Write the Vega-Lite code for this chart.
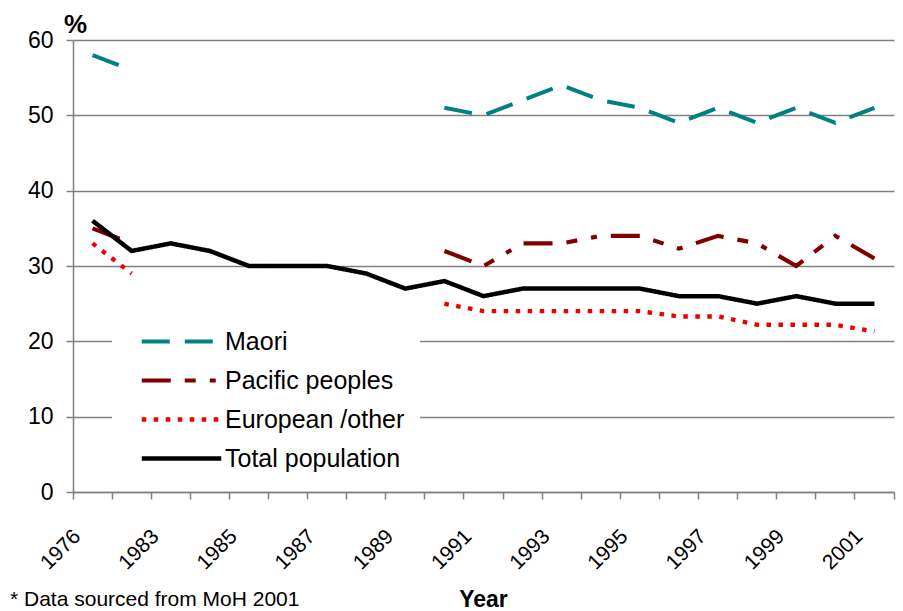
{
  "$schema": "https://vega.github.io/schema/vega-lite/v6.json",
  "width": 821,
  "height": 452,
  "autosize": {"type": "none"},
  "padding": {"left": 73, "top": 40, "right": 9, "bottom": 119},
  "background": "white",
  "config": {"font": "Liberation Sans", "view": {"stroke": null}},
  "title": {
    "text": "* Data sourced from MoH 2001",
    "orient": "bottom",
    "anchor": "start",
    "frame": "group",
    "fontSize": 21,
    "fontWeight": "normal",
    "color": "black",
    "baseline": "alphabetic",
    "dx": -63,
    "dy": -5,
    "offset": 0
  },
  "data": {
    "values": [
      {"year": "1976", "group": "Maori", "value": 58},
      {"year": "1981", "group": "Maori", "value": 56},
      {"year": "1983", "group": "Maori", "value": null},
      {"year": "1984", "group": "Maori", "value": null},
      {"year": "1985", "group": "Maori", "value": null},
      {"year": "1986", "group": "Maori", "value": null},
      {"year": "1987", "group": "Maori", "value": null},
      {"year": "1988", "group": "Maori", "value": null},
      {"year": "1989", "group": "Maori", "value": null},
      {"year": "1990", "group": "Maori", "value": 51},
      {"year": "1991", "group": "Maori", "value": 50},
      {"year": "1992", "group": "Maori", "value": 52},
      {"year": "1993", "group": "Maori", "value": 54},
      {"year": "1994", "group": "Maori", "value": 52},
      {"year": "1995", "group": "Maori", "value": 51},
      {"year": "1996", "group": "Maori", "value": 49},
      {"year": "1997", "group": "Maori", "value": 51},
      {"year": "1998", "group": "Maori", "value": 49},
      {"year": "1999", "group": "Maori", "value": 51},
      {"year": "2000", "group": "Maori", "value": 49},
      {"year": "2001", "group": "Maori", "value": 51},
      {"year": "1976", "group": "Pacific peoples", "value": 35},
      {"year": "1981", "group": "Pacific peoples", "value": 33},
      {"year": "1983", "group": "Pacific peoples", "value": null},
      {"year": "1984", "group": "Pacific peoples", "value": null},
      {"year": "1985", "group": "Pacific peoples", "value": null},
      {"year": "1986", "group": "Pacific peoples", "value": null},
      {"year": "1987", "group": "Pacific peoples", "value": null},
      {"year": "1988", "group": "Pacific peoples", "value": null},
      {"year": "1989", "group": "Pacific peoples", "value": null},
      {"year": "1990", "group": "Pacific peoples", "value": 32},
      {"year": "1991", "group": "Pacific peoples", "value": 30},
      {"year": "1992", "group": "Pacific peoples", "value": 33},
      {"year": "1993", "group": "Pacific peoples", "value": 33},
      {"year": "1994", "group": "Pacific peoples", "value": 34},
      {"year": "1995", "group": "Pacific peoples", "value": 34},
      {"year": "1996", "group": "Pacific peoples", "value": 32.3},
      {"year": "1997", "group": "Pacific peoples", "value": 34},
      {"year": "1998", "group": "Pacific peoples", "value": 33},
      {"year": "1999", "group": "Pacific peoples", "value": 30},
      {"year": "2000", "group": "Pacific peoples", "value": 34},
      {"year": "2001", "group": "Pacific peoples", "value": 31},
      {"year": "1976", "group": "European /other", "value": 33},
      {"year": "1981", "group": "European /other", "value": 29},
      {"year": "1983", "group": "European /other", "value": null},
      {"year": "1984", "group": "European /other", "value": null},
      {"year": "1985", "group": "European /other", "value": null},
      {"year": "1986", "group": "European /other", "value": null},
      {"year": "1987", "group": "European /other", "value": null},
      {"year": "1988", "group": "European /other", "value": null},
      {"year": "1989", "group": "European /other", "value": null},
      {"year": "1990", "group": "European /other", "value": 25},
      {"year": "1991", "group": "European /other", "value": 24},
      {"year": "1992", "group": "European /other", "value": 24},
      {"year": "1993", "group": "European /other", "value": 24},
      {"year": "1994", "group": "European /other", "value": 24},
      {"year": "1995", "group": "European /other", "value": 24},
      {"year": "1996", "group": "European /other", "value": 23.3},
      {"year": "1997", "group": "European /other", "value": 23.3},
      {"year": "1998", "group": "European /other", "value": 22.2},
      {"year": "1999", "group": "European /other", "value": 22.2},
      {"year": "2000", "group": "European /other", "value": 22.2},
      {"year": "2001", "group": "European /other", "value": 21.3},
      {"year": "1976", "group": "Total population", "value": 36},
      {"year": "1981", "group": "Total population", "value": 32},
      {"year": "1983", "group": "Total population", "value": 33},
      {"year": "1984", "group": "Total population", "value": 32},
      {"year": "1985", "group": "Total population", "value": 30},
      {"year": "1986", "group": "Total population", "value": 30},
      {"year": "1987", "group": "Total population", "value": 30},
      {"year": "1988", "group": "Total population", "value": 29},
      {"year": "1989", "group": "Total population", "value": 27},
      {"year": "1990", "group": "Total population", "value": 28},
      {"year": "1991", "group": "Total population", "value": 26},
      {"year": "1992", "group": "Total population", "value": 27},
      {"year": "1993", "group": "Total population", "value": 27},
      {"year": "1994", "group": "Total population", "value": 27},
      {"year": "1995", "group": "Total population", "value": 27},
      {"year": "1996", "group": "Total population", "value": 26},
      {"year": "1997", "group": "Total population", "value": 26},
      {"year": "1998", "group": "Total population", "value": 25},
      {"year": "1999", "group": "Total population", "value": 26},
      {"year": "2000", "group": "Total population", "value": 25},
      {"year": "2001", "group": "Total population", "value": 25}
    ]
  },
  "mark": {"type": "line", "invalid": "break-paths-show-domains", "strokeCap": "butt", "strokeJoin": "miter"},
  "encoding": {
    "x": {
      "field": "year",
      "type": "ordinal",
      "bandPosition": 0.5,
      "scale": {"type": "band", "paddingInner": 0, "paddingOuter": 0},
      "axis": {
        "title": "Year",
        "titleFontSize": 23,
        "titleFontWeight": "bold",
        "titleColor": "black",
        "titleX": 410,
        "titleY": 114,
        "titleAlign": "center",
        "titleBaseline": "alphabetic",
        "bandPosition": 1,
        "tickExtra": true,
        "labelAngle": -45,
        "labelAlign": "right",
        "labelBaseline": "middle",
        "labelOffset": -15,
        "labelPadding": 34,
        "labelFontSize": 21,
        "labelColor": "black",
        "labelOverlap": false,
        "labelBound": false,
        "labelFlush": false,
        "labelExpr": "indexof(['1976','1983','1985','1987','1989','1991','1993','1995','1997','1999','2001'], datum.label) >= 0 ? datum.label : ''",
        "tickSize": 7,
        "tickColor": "#808080",
        "tickWidth": 1.5,
        "domainColor": "#808080",
        "domainWidth": 1.5,
        "grid": false
      }
    },
    "y": {
      "field": "value",
      "type": "quantitative",
      "scale": {"domain": [0, 60], "nice": false},
      "axis": {
        "title": "%",
        "titleAngle": 0,
        "titleFontSize": 26,
        "titleFontWeight": "bold",
        "titleColor": "black",
        "titleX": 2,
        "titleY": -8,
        "titleAlign": "center",
        "titleBaseline": "alphabetic",
        "values": [0, 10, 20, 30, 40, 50, 60],
        "grid": true,
        "gridColor": "#808080",
        "gridWidth": 1.5,
        "domainColor": "#808080",
        "domainWidth": 1.5,
        "tickColor": "#808080",
        "tickWidth": 1.5,
        "tickSize": 7,
        "labelFontSize": 23,
        "labelColor": "black",
        "labelPadding": 13
      }
    },
    "color": {
      "field": "group",
      "type": "nominal",
      "scale": {
        "domain": ["Maori", "Pacific peoples", "European /other", "Total population"],
        "range": ["#008080", "#800000", "#EE0000", "#000000"]
      },
      "legend": {
        "title": null,
        "orient": "none",
        "legendX": 39,
        "legendY": 274,
        "fillColor": "white",
        "padding": 15,
        "symbolType": "M-5.3,0H5.3",
        "symbolSize": 225,
        "symbolOffset": 42,
        "labelOffset": 31,
        "labelFontSize": 25,
        "labelColor": "black",
        "labelLimit": 400,
        "rowPadding": 13
      }
    },
    "strokeDash": {
      "field": "group",
      "type": "nominal",
      "scale": {
        "domain": ["Maori", "Pacific peoples", "European /other", "Total population"],
        "range": [[28, 15], [29, 14, 11, 14, 6, 14], [4.5, 7.5], [1, 0]]
      },
      "legend": {
        "title": null,
        "orient": "none",
        "legendX": 39,
        "legendY": 274,
        "fillColor": "white",
        "padding": 15,
        "symbolType": "M-5.3,0H5.3",
        "symbolSize": 225,
        "symbolOffset": 42,
        "labelOffset": 31,
        "labelFontSize": 25,
        "labelColor": "black",
        "labelLimit": 400,
        "rowPadding": 13
      }
    },
    "strokeWidth": {
      "field": "group",
      "type": "nominal",
      "scale": {
        "domain": ["Maori", "Pacific peoples", "European /other", "Total population"],
        "range": [4, 4.5, 1.8, 3.5]
      },
      "legend": {
        "title": null,
        "orient": "none",
        "legendX": 39,
        "legendY": 274,
        "fillColor": "white",
        "padding": 15,
        "symbolType": "M-5.3,0H5.3",
        "symbolSize": 225,
        "symbolOffset": 42,
        "labelOffset": 31,
        "labelFontSize": 25,
        "labelColor": "black",
        "labelLimit": 400,
        "rowPadding": 13
      }
    }
  }
}
